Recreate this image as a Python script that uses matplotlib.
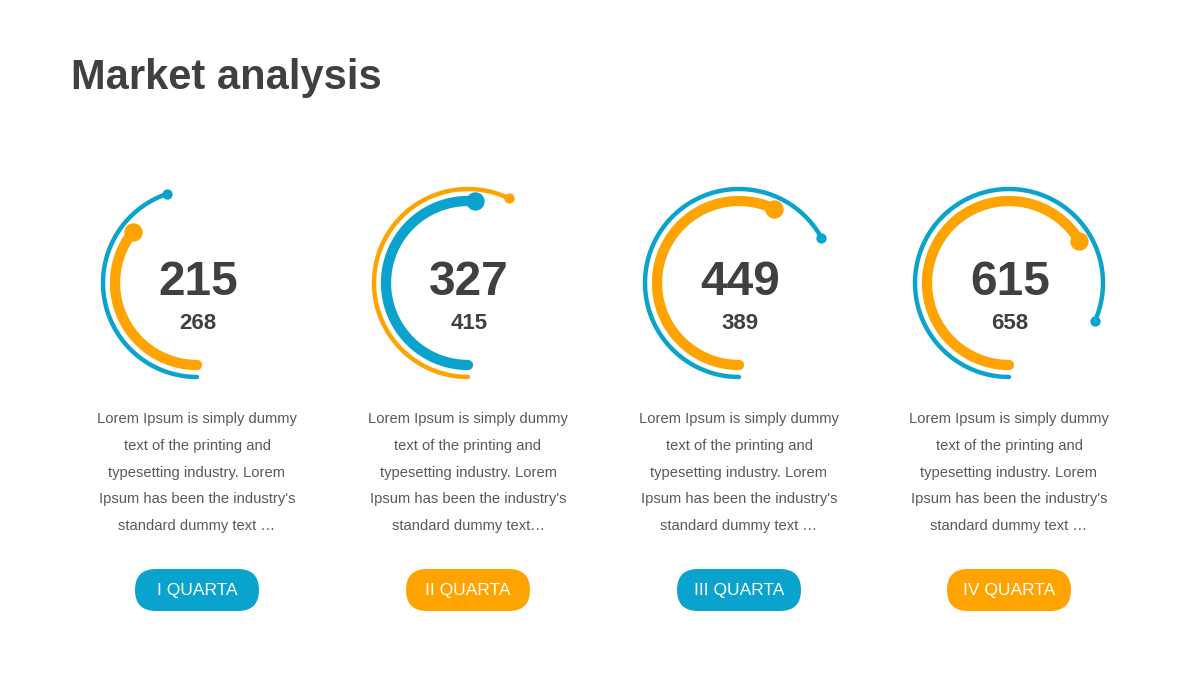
import numpy as np
import matplotlib
matplotlib.use("Agg")
import matplotlib.pyplot as plt
from matplotlib.patches import FancyBboxPatch

plt.rcParams['font.family'] = ['Liberation Sans', 'DejaVu Sans']

# data
title = "Market analysis"
big_values = [215, 327, 449, 615]
small_values = [268, 415, 389, 658]
inner_pct = [35.7, 51.4, 57.0, 66.4]   # thick inner arc, % of full circle
outer_pct = [44.9, 57.2, 67.0, 81.7]   # thin outer arc, % of full circle
quarters = ["I QUARTA", "II QUARTA", "III QUARTA", "IV QUARTA"]
desc_lines = ["Lorem Ipsum is simply dummy", "text of the printing and",
              "typesetting industry. Lorem", "Ipsum has been the industry's"]
desc_endings = ["standard dummy text \u2026", "standard dummy text\u2026",
                "standard dummy text \u2026", "standard dummy text \u2026"]

BLUE = "#0aa3cd"
ORANGE = "#ffa300"
DARK = "#404040"
GREY = "#595959"
inner_colors = [ORANGE, BLUE, ORANGE, ORANGE]
outer_colors = [BLUE, ORANGE, BLUE, BLUE]
button_colors = [BLUE, ORANGE, BLUE, ORANGE]

centers_x = [197, 468, 739, 1009]
cy = 283
r_in, r_out = 82, 94

fig = plt.figure(figsize=(12, 6.75), dpi=100)
ax = fig.add_axes([0, 0, 1, 1])
ax.set_xlim(0, 1200)
ax.set_ylim(675, 0)
ax.axis("off")

ax.text(71, 89, title, fontsize=30, fontweight="bold", color=DARK,
        va="baseline", ha="left")


def arc(cx, r, pct, color, lw, dot):
    # angle measured clockwise from 6 o'clock (y axis points down)
    th = np.radians(np.linspace(0, 360 * pct / 100.0, 300))
    x = cx - r * np.sin(th)
    y = cy + r * np.cos(th)
    ax.plot(x, y, color=color, lw=lw, solid_capstyle="round", zorder=2)
    ax.scatter([x[-1]], [y[-1]], s=dot, color=color, zorder=3, linewidths=0)


for i, cx in enumerate(centers_x):
    arc(cx, r_out, outer_pct[i], outer_colors[i], 3.2, 55)
    arc(cx, r_in, inner_pct[i], inner_colors[i], 7.4, 175)

    ax.text(cx + 1, 295, str(big_values[i]), fontsize=34.5, fontweight="bold",
            color=DARK, ha="center", va="baseline")
    ax.text(cx + 1, 329, str(small_values[i]), fontsize=16, fontweight="bold",
            color=DARK, ha="center", va="baseline")

    lines = desc_lines + [desc_endings[i]]
    for k, line in enumerate(lines):
        ax.text(cx, 423 + 26.75 * k, line, fontsize=10.6, color=GREY,
                ha="center", va="baseline")

    btn = FancyBboxPatch((cx - 62, 569), 124, 42,
                         boxstyle="round,pad=0,rounding_size=21",
                         facecolor=button_colors[i], edgecolor="none", zorder=2)
    ax.add_patch(btn)
    ax.text(cx, 594.5, quarters[i], fontsize=12.5, color="white",
            ha="center", va="baseline", zorder=3)

fig.savefig("out.png", dpi=100, facecolor="white")
